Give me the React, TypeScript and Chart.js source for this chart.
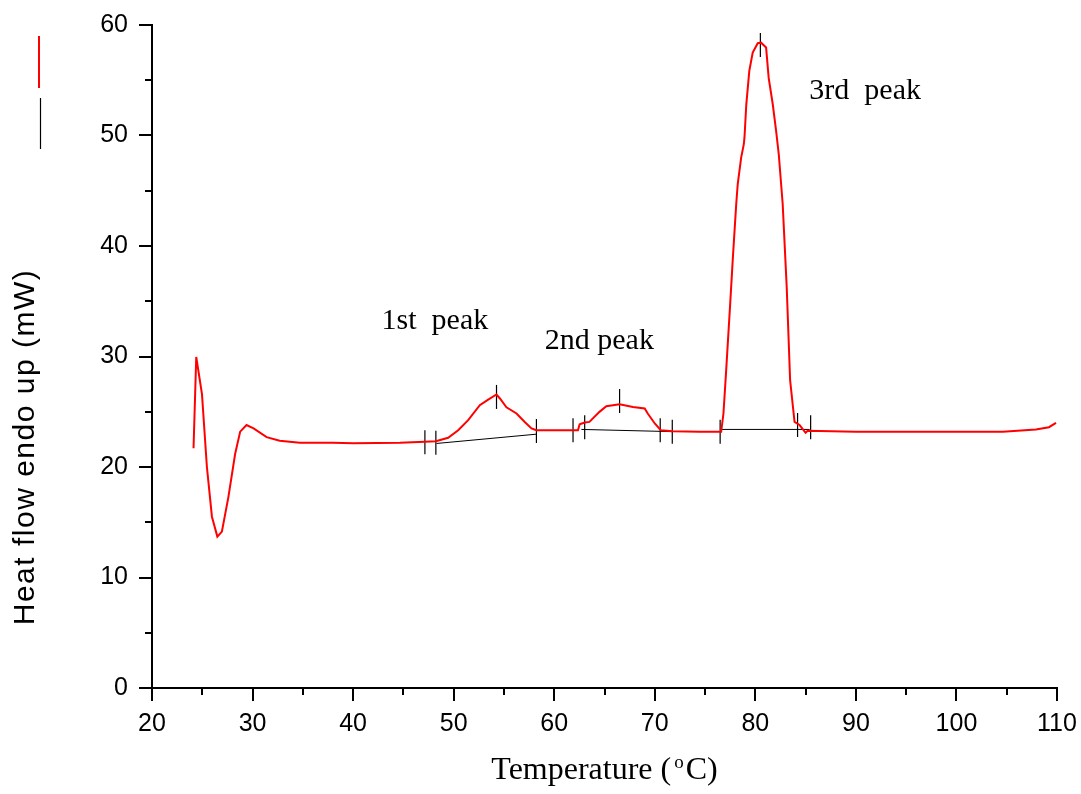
import React, { useEffect, useRef } from 'react';
import { Chart, registerables } from 'chart.js';

Chart.register(...registerables);

// Temperature (°C) and heat flow (mW) of the DSC curve
const temperature = [
  24.13, 24.4, 24.97, 25.46, 25.96, 26.5, 26.95, 27.6, 28.27, 28.77, 29.4, 30.1, 31.4, 32.7, 34.7, 38, 40,
  44.65, 47.14, 48.23, 49.45, 50.45, 51.44, 52.6, 53.43, 54.26, 54.6, 55.25, 56.25, 57.07, 57.74, 58.23,
  61.87, 62.36, 62.53, 63.03, 63.5, 64.5, 65.18, 66.5, 67.83, 69.0, 69.3, 70.0, 70.6, 71.8, 74.45,
  76.6, 76.83, 77.1, 77.5, 77.75, 78.1, 78.25, 78.59, 78.85, 78.92, 79.1, 79.4, 79.74, 80.24, 80.57,
  81.07, 81.33, 81.73, 82.07, 82.33, 82.72, 83.12, 83.46, 83.9, 84.4, 85.0, 85.2, 90, 100, 104.6,
  107.9, 109.2, 109.9,
];
const heatFlow = [
  21.7, 29.96, 26.6, 20.0, 15.5, 13.7, 14.15, 17.3, 21.2, 23.2, 23.8, 23.5, 22.7, 22.37, 22.2, 22.2, 22.15,
  22.19, 22.28, 22.34, 22.64, 23.33, 24.24, 25.6, 26.1, 26.56, 26.2, 25.4, 24.84, 24.08, 23.49, 23.33,
  23.33, 23.33, 23.87, 24.03, 24.08, 24.99, 25.5, 25.68, 25.44, 25.3, 24.84, 23.94, 23.33, 23.24, 23.18,
  23.18, 24.84, 28.75, 34.78, 38.7, 43.8, 45.6, 48.0, 49.2, 49.8, 52.8, 55.85, 57.5, 58.35, 58.4,
  57.96, 55.2, 52.85, 50.4, 48.3, 43.8, 36.3, 27.85, 24.08, 23.8, 23.1, 23.27, 23.2, 23.2, 23.18,
  23.4, 23.6, 24.0,
];

// Peak baselines (segments separated by null)
const baselineT = [48.3, 58.23, 60, 62.7, 71.74, 74, 76.6, 85.4];
const baselineH: (number | null)[] = [22.13, 22.97, null, 23.4, 23.2, null, 23.4, 23.4];

// Vertical markers (peak limits and maxima)
const markerT = [47.14, 48.23, 54.26, 58.23, 61.87, 63.03, 66.5, 70.54, 71.74, 76.5, 80.5, 84.2, 85.5];
const markerH = [22.23, 22.2, 26.34, 23.26, 23.33, 23.6, 25.97, 23.33, 23.2, 23.2, 58.2, 23.8, 23.6];

// Peak labels
const peakLabels = ['1st  peak', '2nd peak', '3rd  peak'];
const peakLabelT = [42.83, 59.06, 85.37];
const peakLabelH = [32.52, 30.71, 53.3];

// Axis ticks
const xMin = 20, xMax = 110, xStep = 10;
const yMin = 0, yMax = 60, yStep = 10;
const xMinorTicks = [25, 35, 45, 55, 65, 75, 85, 95, 105];
const yMinorTicks = [5, 15, 25, 35, 45, 55];

const SANS = '"Liberation Sans", Arial, Helvetica, sans-serif';
const SERIF = '"Liberation Serif", "Times New Roman", serif';

const decorPlugin = {
  id: 'decor',
  afterDraw(chart: any) {
    const ctx = chart.ctx;
    const xs = chart.scales.x;
    const ys = chart.scales.y;
    const area = chart.chartArea;
    ctx.save();
    // minor ticks
    ctx.strokeStyle = '#000';
    ctx.lineWidth = 2;
    ctx.beginPath();
    xMinorTicks.forEach((v) => {
      const px = Math.round(xs.getPixelForValue(v));
      ctx.moveTo(px, area.bottom);
      ctx.lineTo(px, area.bottom + 7);
    });
    yMinorTicks.forEach((v) => {
      const py = Math.round(ys.getPixelForValue(v));
      ctx.moveTo(area.left, py);
      ctx.lineTo(area.left - 7, py);
    });
    ctx.stroke();

    // legend symbols
    const ds = chart.data.datasets;
    ctx.strokeStyle = ds[0].borderColor;
    ctx.lineWidth = 2;
    ctx.beginPath();
    ctx.moveTo(39, 36);
    ctx.lineTo(39, 88);
    ctx.stroke();
    ctx.strokeStyle = ds[1].borderColor;
    ctx.lineWidth = 1.2;
    ctx.beginPath();
    ctx.moveTo(40.5, 98);
    ctx.lineTo(40.5, 149);
    ctx.stroke();

    // peak labels
    ctx.fillStyle = '#000';
    ctx.font = `30px ${SERIF}`;
    ctx.textAlign = 'left';
    ctx.textBaseline = 'alphabetic';
    peakLabels.forEach((t, i) => {
      ctx.fillText(t, xs.getPixelForValue(peakLabelT[i]), ys.getPixelForValue(peakLabelH[i]));
    });

    // x title with superscript
    const big = `32px ${SERIF}`;
    const small = `19px ${SERIF}`;
    ctx.font = big;
    const p1 = 'Temperature (';
    const p3 = 'C)';
    const w1 = ctx.measureText(p1).width;
    const w3 = ctx.measureText(p3).width;
    ctx.font = small;
    const w2 = ctx.measureText('o').width + 5;
    const total = w1 + w2 + w3;
    const sx = (area.left + area.right) / 2 - total / 2;
    ctx.font = big;
    ctx.fillText(p1, sx, 779);
    ctx.font = small;
    ctx.fillText('o', sx + w1 + 3, 768);
    ctx.font = big;
    ctx.fillText(p3, sx + w1 + w2, 779);

    // y title
    ctx.translate(34, 447);
    ctx.rotate(-Math.PI / 2);
    ctx.font = `30px ${SANS}`;
    try { (ctx as any).letterSpacing = '1.5px'; } catch (e) {}
    ctx.textAlign = 'center';
    ctx.fillText('Heat flow endo up (mW)', 0, 0);
    ctx.restore();
  },
};

export default function App() {
  const ref = useRef<HTMLCanvasElement | null>(null);
  useEffect(() => {
    if (!ref.current) return;
    const curve = temperature.map((t, i) => ({ x: t, y: heatFlow[i] }));
    const baseline = baselineT.map((t, i) => ({ x: t, y: baselineH[i] }));
    const markers = markerT.map((t, i) => ({ x: t, y: markerH[i] }));
    const axisCommon = {
      type: 'linear' as const,
      grid: {
        drawOnChartArea: false,
        drawTicks: true,
        tickLength: 13,
        color: '#000',
        lineWidth: 2,
      },
      border: { display: true, color: '#000', width: 2 },
    };
    const chart = new Chart(ref.current, {
      type: 'scatter',
      data: {
        datasets: [
          {
            label: 'Heat flow',
            data: curve,
            showLine: true,
            borderColor: '#ff0000',
            backgroundColor: '#ff0000',
            borderWidth: 2,
            pointRadius: 0,
            tension: 0,
          },
          {
            label: 'Baseline',
            data: baseline as any,
            showLine: true,
            spanGaps: false,
            borderColor: '#000000',
            backgroundColor: '#000000',
            borderWidth: 1,
            pointRadius: 0,
          },
          {
            label: 'Markers',
            data: markers,
            showLine: false,
            pointStyle: 'line',
            rotation: 90,
            pointRadius: 12,
            borderColor: '#000000',
            backgroundColor: '#000000',
            borderWidth: 1.2,
          },
        ],
      },
      options: {
        animation: false,
        responsive: false,
        maintainAspectRatio: false,
        events: [],
        layout: { padding: { top: 25, right: 24, left: 0, bottom: 0 } },
        plugins: { legend: { display: false }, tooltip: { enabled: false } },
        scales: {
          x: {
            ...axisCommon,
            min: xMin,
            max: xMax,
            ticks: {
              stepSize: xStep,
              color: '#000',
              font: { family: SANS, size: 25 },
              padding: 8,
              maxRotation: 0,
            },
            afterFit: (s: any) => {
              s.height = 106;
              s.paddingLeft = 0;
              s.paddingRight = 0;
            },
          },
          y: {
            ...axisCommon,
            min: yMin,
            max: yMax,
            ticks: {
              stepSize: yStep,
              color: '#000',
              font: { family: SANS, size: 25 },
              padding: 11,
            },
            afterFit: (s: any) => {
              s.width = 152;
              s.paddingTop = 0;
              s.paddingBottom = 0;
            },
          },
        },
      },
      plugins: [decorPlugin],
    });
    return () => chart.destroy();
  }, []);
  return (
    <div style={{ position: 'fixed', left: 0, top: 0, width: 1081, height: 794, background: '#fff' }}>
      <canvas ref={ref} width={1081} height={794} style={{ display: 'block', width: 1081, height: 794 }} />
    </div>
  );
}
